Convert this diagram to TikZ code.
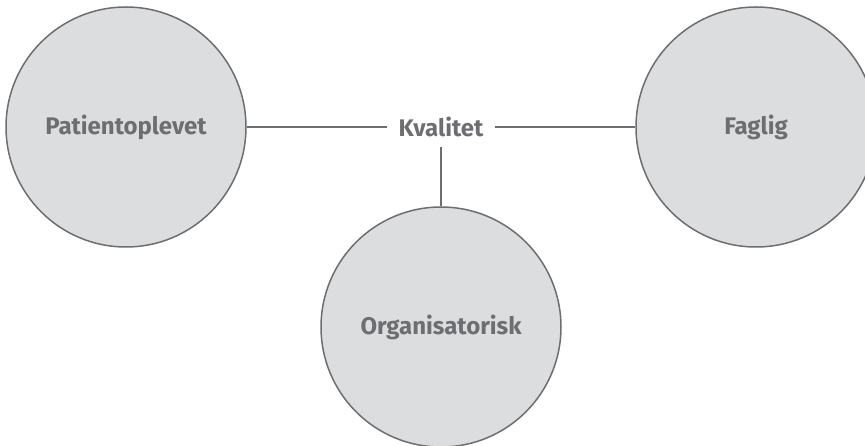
\documentclass[tikz,border=0pt]{standalone}
\usepackage{fontspec}
\setmainfont{Fira Sans}
\usepackage[HTML]{xcolor}
\usepackage{tikz}
\usetikzlibrary{positioning}
\definecolor{kgray}{HTML}{6D6E71}
\definecolor{kfill}{HTML}{DCDDDF}

\begin{document}
\begin{tikzpicture}[x=1pt,y=-1pt,
  area/.style={circle,draw=kgray,fill=kfill,line width=1.5pt,minimum size=240pt,text=kgray,font=\fontsize{24}{28}\selectfont\bfseries},
  hub/.style={text=kgray,inner xsep=11pt,inner ysep=10pt,font=\fontsize{24}{28}\selectfont\bfseries}]
\useasboundingbox (0,0) rectangle (865,446);
\node[area] (pat) at (126,127) {Patientoplevet};
\node[area] (fag) at (756,127) {Faglig};
\node[area] (org) at (441,327) {Organisatorisk};
\node[hub] (kval) at (441,127) {Kvalitet};
\draw[kgray,line width=1.5pt] (pat)--(kval);
\draw[kgray,line width=1.5pt] (kval)--(fag);
\draw[kgray,line width=1.5pt] (kval)--(org);
\end{tikzpicture}
\end{document}
